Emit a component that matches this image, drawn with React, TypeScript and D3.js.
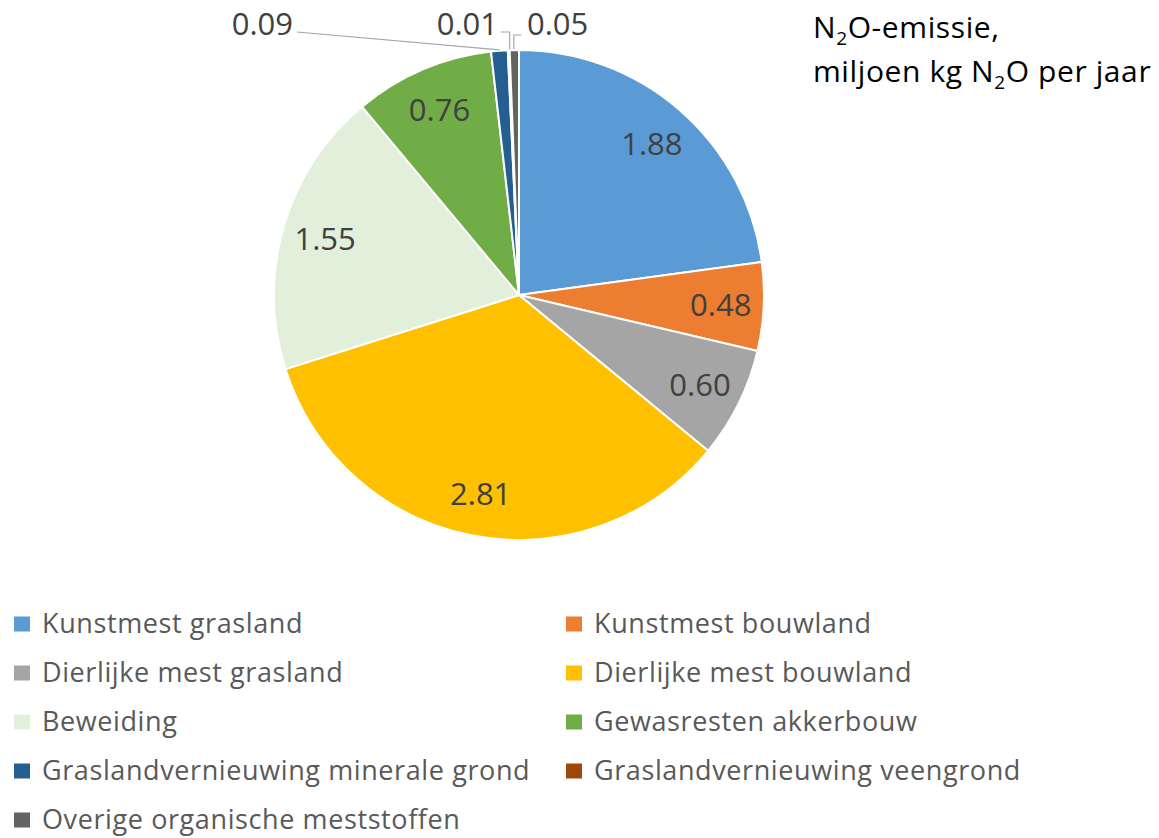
import React from "react";
import * as d3 from "d3";

// N2O emission sources, million kg N2O per year
const categories = [
  "Kunstmest grasland",
  "Kunstmest bouwland",
  "Dierlijke mest grasland",
  "Dierlijke mest bouwland",
  "Beweiding",
  "Gewasresten akkerbouw",
  "Graslandvernieuwing minerale grond",
  "Graslandvernieuwing veengrond",
  "Overige organische meststoffen",
];
const values = [1.88, 0.48, 0.6, 2.81, 1.55, 0.76, 0.09, 0.01, 0.05];
const colors = [
  "#5B9BD5",
  "#ED7D31",
  "#A5A5A5",
  "#FFC000",
  "#E2EFDA",
  "#70AD47",
  "#255E91",
  "#9E480E",
  "#636363",
];

const W = 1159;
const H = 838;
const FONT = "'Open Sans', 'Noto Sans', sans-serif";

export default function App() {
  const cx = 519;
  const cy = 295;
  const R = 245;
  const labelR = 202;

  const pie = d3.pie<number>().sort(null).value((d) => d)(values);
  const arc = d3.arc<d3.PieArcDatum<number>>().innerRadius(0).outerRadius(R);
  const labelArc = d3
    .arc<d3.PieArcDatum<number>>()
    .innerRadius(labelR)
    .outerRadius(labelR);

  const onEdge = (a: d3.PieArcDatum<number>) => {
    const m = (a.startAngle + a.endAngle) / 2;
    return [R * Math.sin(m), -R * Math.cos(m)];
  };

  const small = new Set([6, 7, 8]);

  // leader-line callouts for the thin slices at the top
  const callouts = pie
    .map((a, i) => ({ a, i }))
    .filter(({ i }) => small.has(i))
    .map(({ a, i }) => {
      const [ex, ey] = onEdge(a);
      const x0 = cx + ex;
      const y0 = cy + ey;
      if (i === 6) {
        return {
          i,
          path: `M${x0},${y0 - 1}L${297},${32}`,
          tx: 293,
          ty: 35,
          anchor: "end",
        };
      }
      if (i === 7) {
        return {
          i,
          path: `M${x0 + 1},${y0 - 1}L${x0 + 1},${32}L${x0 - 8},${32}`,
          tx: 498,
          ty: 35,
          anchor: "end",
        };
      }
      return {
        i,
        path: `M${x0 - 0.5},${y0 - 1}L${x0 - 0.5},${35}L${x0 + 7},${35}`,
        tx: 527,
        ty: 35,
        anchor: "start",
      };
    });

  const legendRows = [0, 1, 2, 3, 4];
  const rowY = (r: number) => 624 + r * 49;
  const colX = [14, 566];

  return (
    <svg
      width={W}
      height={H}
      style={{ position: "absolute", left: 0, top: 0, background: "#fff" }}
      fontFamily={FONT}
    >
      <g transform={`translate(${cx},${cy})`}>
        {pie.map((a, i) => (
          <path
            key={categories[i]}
            d={arc(a) || ""}
            fill={colors[i]}
            stroke="#fff"
            strokeWidth={2}
            strokeLinejoin="round"
          />
        ))}
        {pie.map((a, i) => {
          if (small.has(i)) return null;
          const [lx, ly] = labelArc.centroid(a);
          return (
            <text
              key={"l" + i}
              x={lx}
              y={ly}
              dy="0.38em"
              textAnchor="middle"
              fontSize={31}
              fill="#404040"
            >
              {values[i].toFixed(2)}
            </text>
          );
        })}
      </g>

      {callouts.map((c) => (
        <g key={"c" + c.i}>
          <path d={c.path} fill="none" stroke="#A6A6A6" strokeWidth={1.2} />
          <text
            x={c.tx}
            y={c.ty}
            textAnchor={c.anchor as any}
            fontSize={31}
            fill="#404040"
          >
            {values[c.i].toFixed(2)}
          </text>
        </g>
      ))}

      <text x={813} y={38} fontSize={30} letterSpacing={0.6} fill="#000">
        N<tspan fontSize={19} dy={7}>2</tspan>
        <tspan dy={-7}>O-emissie,</tspan>
      </text>
      <text x={813} y={82} fontSize={30} letterSpacing={0.6} fill="#000">
        miljoen kg N<tspan fontSize={19} dy={7}>2</tspan>
        <tspan dy={-7}>O per jaar</tspan>
      </text>

      {categories.map((name, i) => {
        const row = Math.floor(i / 2);
        const col = i % 2;
        const y = rowY(legendRows[row]);
        return (
          <g key={"lg" + i}>
            <rect
              x={colX[col]}
              y={y - 7.5}
              width={16}
              height={15}
              fill={colors[i]}
            />
            <text
              x={colX[col] + 28}
              y={y}
              dy="0.35em"
              fontSize={27}
              letterSpacing={0.6}
              fill="#595959"
            >
              {name}
            </text>
          </g>
        );
      })}
    </svg>
  );
}
